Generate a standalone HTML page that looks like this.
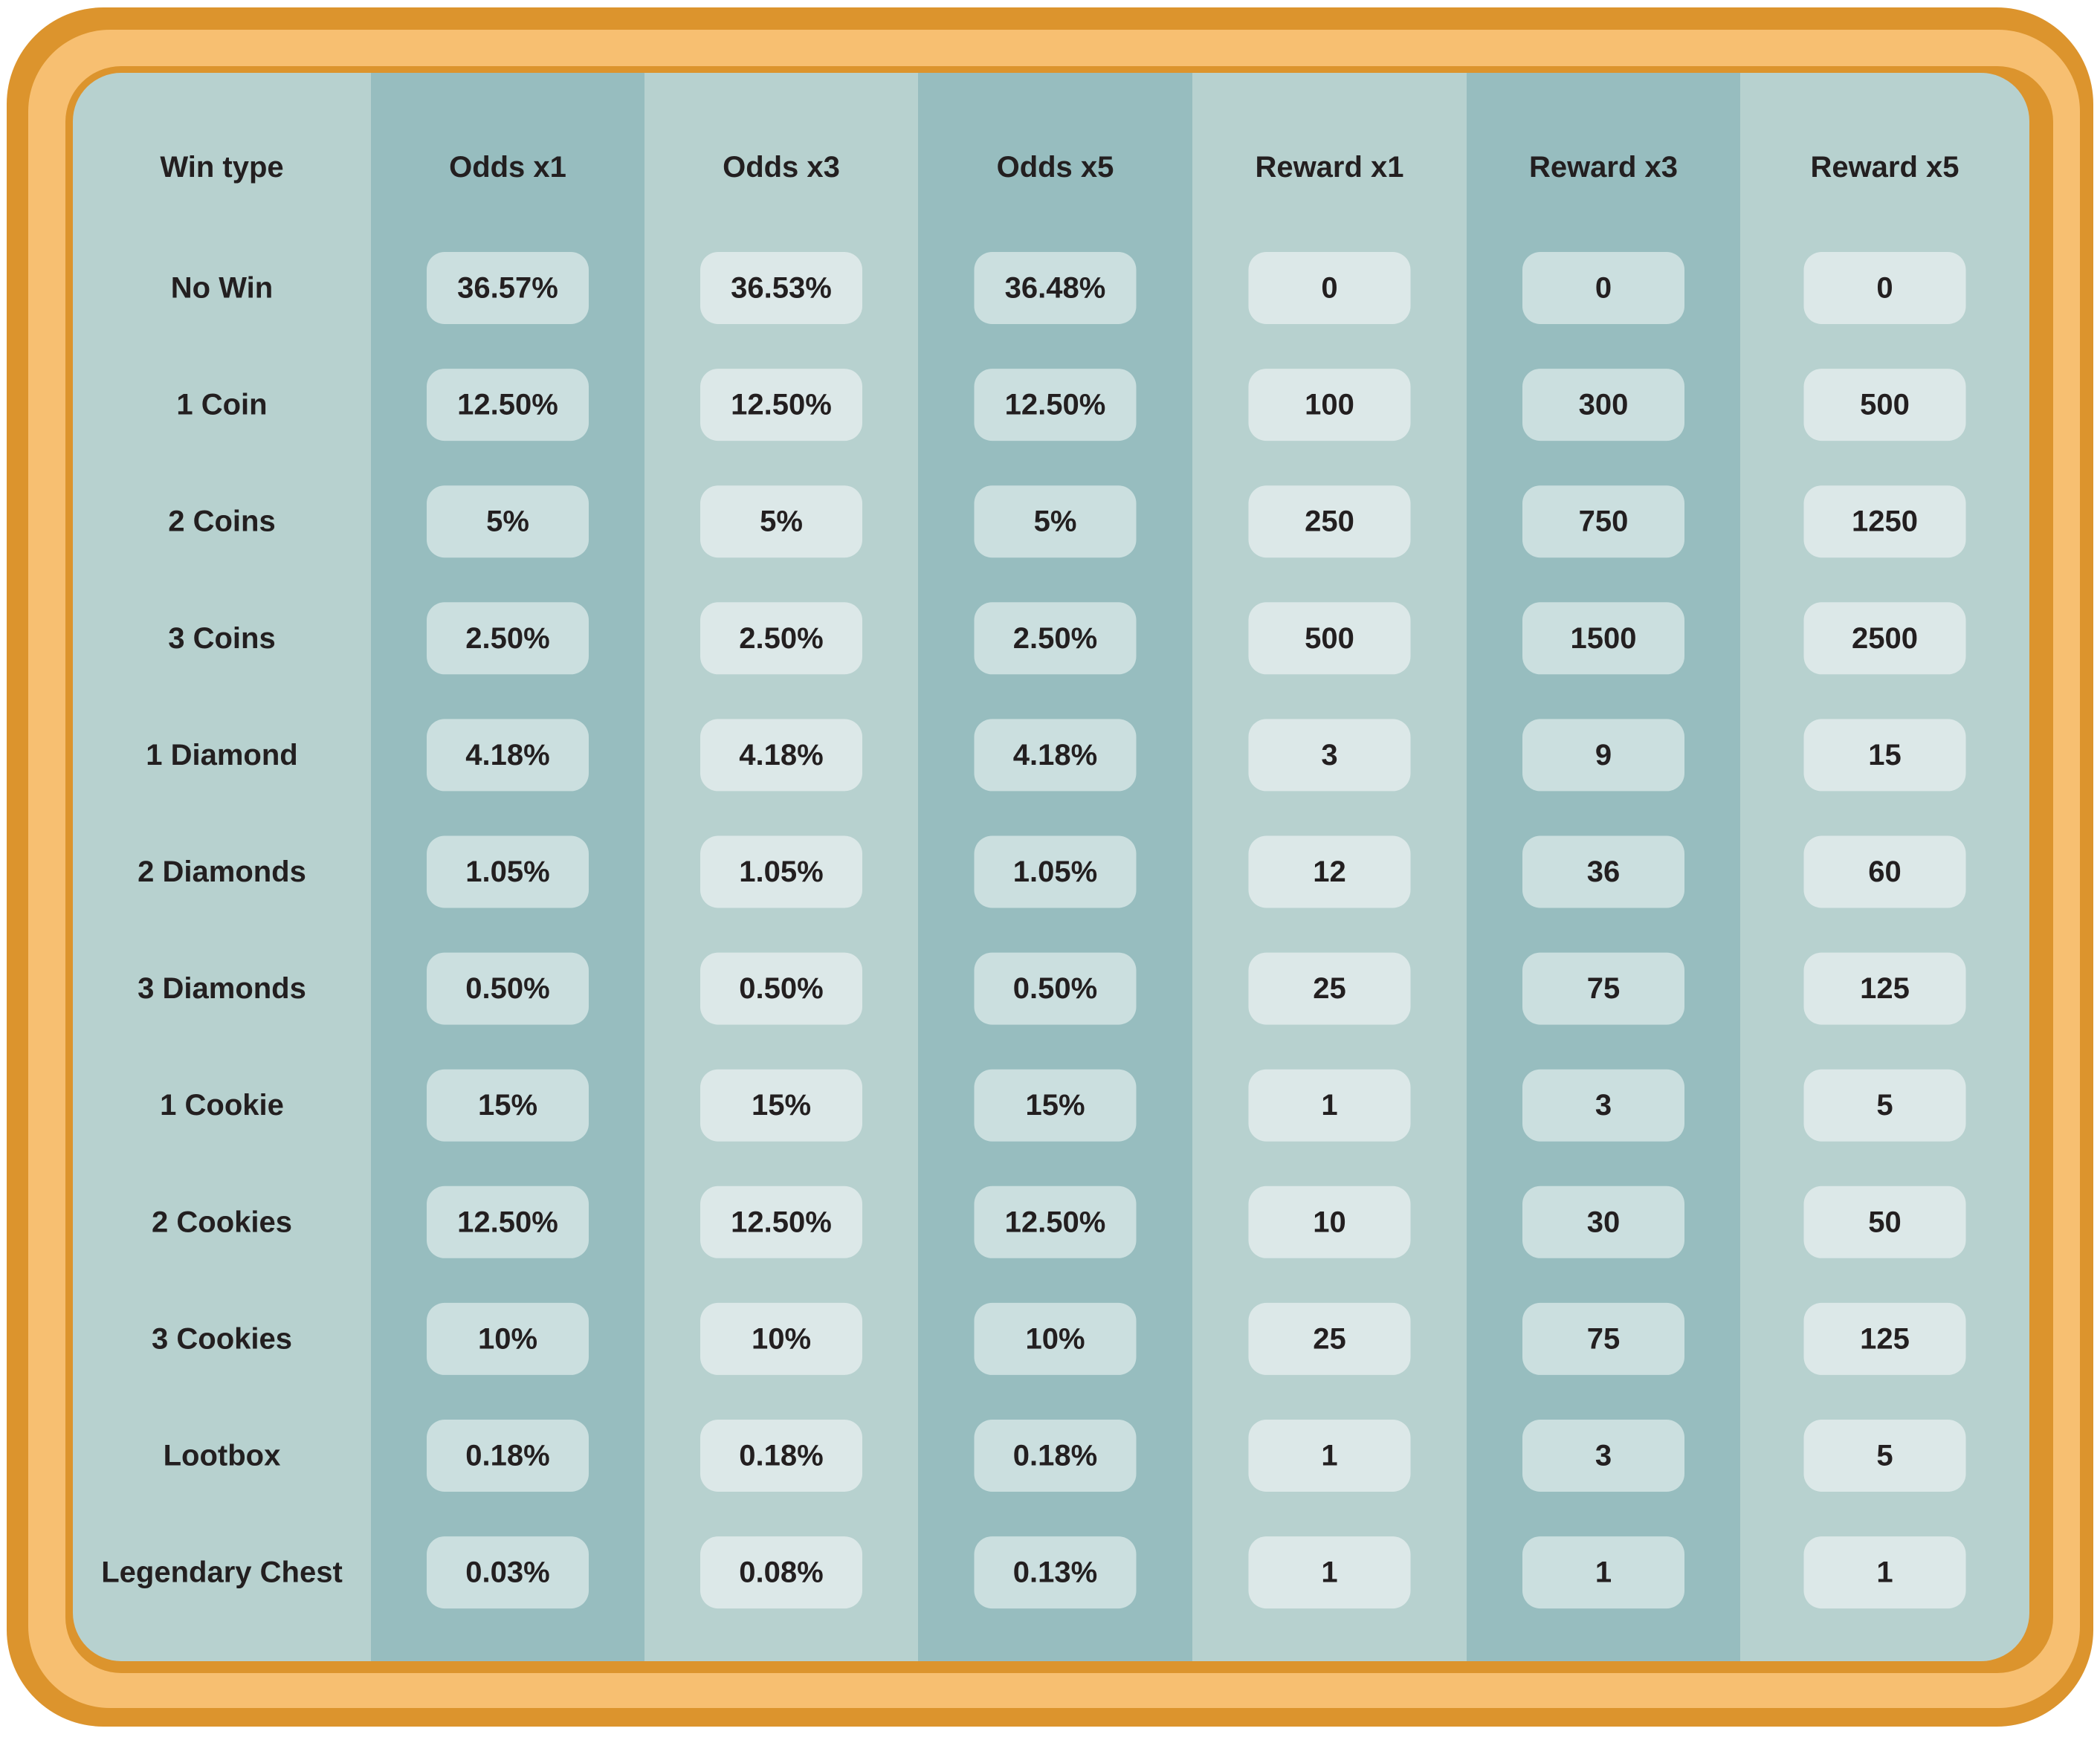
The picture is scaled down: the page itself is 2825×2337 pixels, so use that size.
<!DOCTYPE html>
<html><head><meta charset="utf-8"><style>
html,body{margin:0;padding:0;background:#fff}
body{width:2825px;height:2332px;overflow:hidden;position:relative;font-family:"Liberation Sans","DejaVu Sans",sans-serif}
</style></head><body>
<svg id="chart" width="2825" height="2332" viewBox="0 0 2825 2332" xmlns="http://www.w3.org/2000/svg">
<rect x="9" y="10" width="2807" height="2313" rx="130" fill="#dc942d"/>
<rect x="38" y="40" width="2760" height="2258" rx="110" fill="#f7bf71"/>
<rect x="88" y="89" width="2674" height="2162" rx="75" fill="#dc942d"/>
<clipPath id="tclip"><rect x="98" y="98" width="2632" height="2137" rx="65"/></clipPath>
<g id="cols" clip-path="url(#tclip)"></g>
<g id="cells"></g>
</svg>
<script>
const headers = ["Win type","Odds x1","Odds x3","Odds x5","Reward x1","Reward x3","Reward x5"];
const winTypes = ["No Win","1 Coin","2 Coins","3 Coins","1 Diamond","2 Diamonds","3 Diamonds","1 Cookie","2 Cookies","3 Cookies","Lootbox","Legendary Chest"];
const oddsX1 = ["36.57%","12.50%","5%","2.50%","4.18%","1.05%","0.50%","15%","12.50%","10%","0.18%","0.03%"];
const oddsX3 = ["36.53%","12.50%","5%","2.50%","4.18%","1.05%","0.50%","15%","12.50%","10%","0.18%","0.08%"];
const oddsX5 = ["36.48%","12.50%","5%","2.50%","4.18%","1.05%","0.50%","15%","12.50%","10%","0.18%","0.13%"];
const rewardX1 = ["0","100","250","500","3","12","25","1","10","25","1","1"];
const rewardX3 = ["0","300","750","1500","9","36","75","3","30","75","3","1"];
const rewardX5 = ["0","500","1250","2500","15","60","125","5","50","125","5","1"];

const NS="http://www.w3.org/2000/svg";
const colEdges=[98,499,867,1235,1604,1973,2341,2730];
const colX=i=>(colEdges[i]+colEdges[i+1])/2;
const rowY=r=>387.5+r*157.1;
const headerY=225;
const colsG=document.getElementById('cols');
const cellsG=document.getElementById('cells');
function mk(tag,attrs,parent){const e=document.createElementNS(NS,tag);for(const k in attrs)e.setAttribute(k,attrs[k]);parent.appendChild(e);return e;}
for(let i=0;i<7;i++){
  const c=mk('rect',{x:colEdges[i],y:90,width:colEdges[i+1]-colEdges[i]+(i==6?10:0),height:2160,fill:i%2?'#97bdbf':'#b7d1cf'},colsG);
  
  
  const t=mk('text',{x:colX(i),y:headerY,'text-anchor':'middle','dominant-baseline':'central','font-size':40,'font-weight':'bold',fill:'#231f20'},cellsG);
  t.textContent=headers[i];
  
  
}
const series=[oddsX1,oddsX3,oddsX5,rewardX1,rewardX3,rewardX5];
for(let r=0;r<winTypes.length;r++){
  const y=rowY(r);
  const lab=mk('text',{x:colX(0),y:y,'text-anchor':'middle','dominant-baseline':'central','font-size':40,'font-weight':'bold',fill:'#231f20'},cellsG);
  lab.textContent=winTypes[r];
  
  
  for(let s=0;s<series.length;s++){
    const cx=colX(s+1);
    const p=mk('rect',{x:cx-109,y:y-48.5,width:218,height:97,rx:24,fill:(s+1)%2?'#cbdfdf':'#dce8e8'},cellsG);
    
    
    const t=mk('text',{x:cx,y:y,'text-anchor':'middle','dominant-baseline':'central','font-size':40,'font-weight':'bold',fill:'#231f20'},cellsG);
    t.textContent=series[s][r];
    
    
  }
}
</script>
</body></html>
